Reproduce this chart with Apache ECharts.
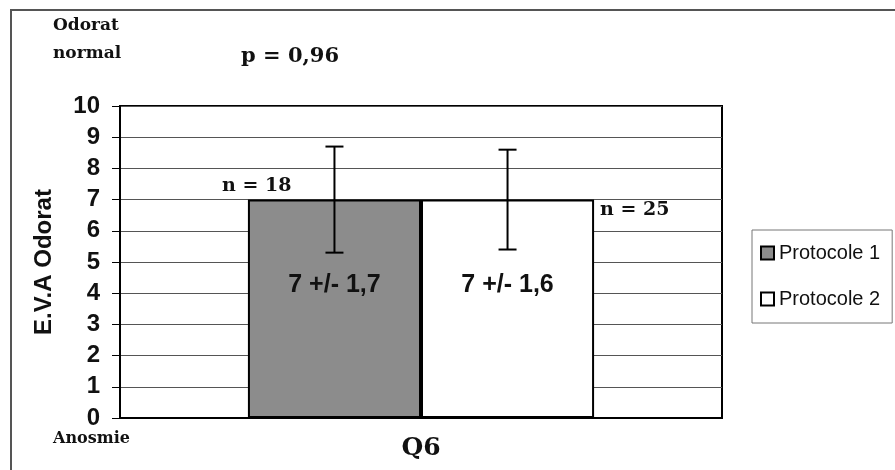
<!DOCTYPE html>
<html>
<head>
<meta charset="utf-8">
<script src="https://cdn.jsdelivr.net/npm/echarts@6/dist/echarts.min.js"></script>
<style>html,body{margin:0;padding:0;background:#fff}#c{width:895px;height:470px}</style>
</head>
<body>
<div id="c"></div>
<script>
// ---- data ----
var categories = ['Q6'];
var seriesNames = ['Protocole 1', 'Protocole 2'];
var means = [7, 7];
var sds = [1.7, 1.6];
var barLabels = ['7 +/- 1,7', '7 +/- 1,6'];
var nLabels = ['n = 18', 'n = 25'];
var yTicks = [0, 1, 2, 3, 4, 5, 6, 7, 8, 9, 10];

var colors = ['#8c8c8c', '#ffffff'];
var GAP = 0.425;
var SERIF = '"DejaVu Serif"';

var chart = echarts.init(document.getElementById('c'));

var barSeries = seriesNames.map(function (name, i) {
  return {
    name: name,
    type: 'bar',
    data: [means[i]],
    barGap: '0%',
    barCategoryGap: (GAP * 100) + '%',
    itemStyle: { color: colors[i], borderColor: '#000', borderWidth: 2 },
    label: {
      show: true,
      position: ['50%', '39%'],
      align: 'center',
      verticalAlign: 'middle',
      formatter: barLabels[i],
      fontFamily: 'Liberation Sans',
      fontWeight: 'bold',
      fontSize: 25,
      color: '#111'
    },
    z: 2
  };
});

var errorSeries = {
  type: 'custom',
  name: 'err',
  z: 5,
  renderItem: function (params, api) {
    var idx = params.dataIndex;
    var cat = api.value(0);
    var lo = api.value(1), hi = api.value(2);
    var band = api.size([1, 0])[0];
    var bw = band * (1 - GAP) / 2;
    var p0 = api.coord([cat, lo]);
    var p1 = api.coord([cat, hi]);
    var x = p0[0] + (idx === 0 ? -bw / 2 : bw / 2);
    var cap = 9;
    var st = { stroke: '#000', lineWidth: 2 };
    return {
      type: 'group',
      children: [
        { type: 'line', shape: { x1: x, y1: p0[1], x2: x, y2: p1[1] }, style: st },
        { type: 'line', shape: { x1: x - cap, y1: p0[1], x2: x + cap, y2: p0[1] }, style: st },
        { type: 'line', shape: { x1: x - cap, y1: p1[1], x2: x + cap, y2: p1[1] }, style: st }
      ]
    };
  },
  data: means.map(function (m, i) { return [0, m - sds[i], m + sds[i]]; }),
  tooltip: { show: false },
  silent: true
};

function txt(x, y, s, size) {
  return { type: 'text', x: x, y: y, style: { text: s, font: 'bold ' + size + 'px ' + SERIF, fill: '#111', verticalAlign: 'middle', align: 'left' } };
}

chart.setOption({
  animation: false,
  backgroundColor: '#fff',
  grid: { left: 120, top: 106, width: 602, height: 312, show: true, borderColor: '#000', borderWidth: 2, backgroundColor: 'transparent' },
  legend: {
    orient: 'vertical',
    left: 752,
    top: 230,
    data: seriesNames,
    icon: 'rect',
    itemWidth: 13,
    itemHeight: 13,
    itemGap: 26,
    padding: [13, 12, 14, 8],
    borderColor: '#777',
    borderWidth: 1,
    textStyle: { fontFamily: 'Liberation Sans', fontSize: 20, color: '#111', padding: [0, 0, 0, 0] },
    itemStyle: { borderColor: '#000', borderWidth: 2 }
  },
  xAxis: {
    type: 'category',
    data: categories,
    axisLine: { show: true, lineStyle: { color: '#000', width: 2 } },
    axisTick: { show: false },
    axisLabel: { margin: 18, fontFamily: 'DejaVu Serif', fontWeight: 'bold', fontSize: 25, color: '#111' }
  },
  yAxis: {
    type: 'value',
    min: 0,
    max: 10,
    interval: 1,
    name: 'E.V.A Odorat',
    nameLocation: 'middle',
    nameRotate: 90,
    nameGap: 64,
    nameTextStyle: { fontFamily: 'Liberation Sans', fontWeight: 'bold', fontSize: 24, color: '#111' },
    axisLine: { show: true, lineStyle: { color: '#000', width: 2 } },
    axisTick: { show: true, length: 8, lineStyle: { color: '#000', width: 1 } },
    axisLabel: {
      margin: 20,
      fontFamily: 'Liberation Sans', fontWeight: 'bold', fontSize: 24, color: '#111',
      formatter: function (v) { return yTicks.indexOf(v) >= 0 ? String(v) : ''; }
    },
    splitLine: { show: true, lineStyle: { color: '#555', width: 1 } }
  },
  series: barSeries.concat([errorSeries]),
  graphic: [
    { type: 'rect', shape: { x: 11, y: 10, width: 900, height: 480 }, style: { fill: 'none', stroke: '#555', lineWidth: 2 }, z: -1 },
    txt(53, 26, 'Odorat', 17),
    txt(53, 54, 'normal', 17),
    txt(241, 57, 'p = 0,96', 21),
    txt(53, 439, 'Anosmie', 16),
    txt(222, 186, nLabels[0], 19),
    txt(600, 210, nLabels[1], 19)
  ]
});
</script>
</body>
</html>
